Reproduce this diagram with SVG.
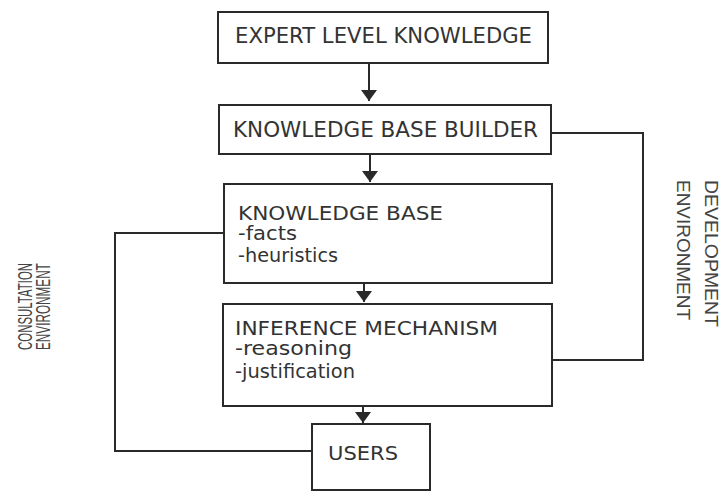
<svg xmlns="http://www.w3.org/2000/svg" width="725" height="493" viewBox="0 0 725 493">
  <defs>
    <marker id="ah" viewBox="0 0 11 16" refX="11" refY="8" markerWidth="11" markerHeight="16" markerUnits="userSpaceOnUse" orient="auto">
      <path d="M0,0 L11,8 L0,16 z" fill="#2a2a2a"/>
    </marker>
    <style>
      .box { fill: #ffffff; stroke: #2a2a2a; stroke-width: 2; }
      .conn { fill: none; stroke: #2a2a2a; stroke-width: 2; }
      .t { font-family: "DejaVu Sans", "Liberation Sans", sans-serif; fill: #333333; }
      .big { font-size: 22px; }
      .mid { font-size: 20px; }
      .side { font-family: "Liberation Sans", Arial, sans-serif; fill: #444444; font-size: 19px; }
      .side2 { font-family: "Liberation Sans", Arial, sans-serif; fill: #444444; font-size: 21px; }
    </style>
  </defs>
  <rect width="725" height="493" fill="#ffffff"/>

  <g id="connectors">
    <line class="conn" x1="369" y1="63" x2="369" y2="101" marker-end="url(#ah)"/>
    <line class="conn" x1="370" y1="154" x2="370" y2="182" marker-end="url(#ah)"/>
    <line class="conn" x1="364" y1="283" x2="364" y2="302" marker-end="url(#ah)"/>
    <line class="conn" x1="363" y1="406" x2="363" y2="423" marker-end="url(#ah)"/>
    <polyline class="conn" points="224,233 115,233 115,451 312,451"/>
    <polyline class="conn" points="551,133 643,133 643,360 552,360"/>
  </g>

  <g id="expert">
    <rect class="box" x="218" y="12" width="330" height="51"/>
    <text class="t big" x="235" y="43" textLength="297" lengthAdjust="spacingAndGlyphs">EXPERT LEVEL KNOWLEDGE</text>
  </g>
  <g id="kbbuilder">
    <rect class="box" x="219" y="105" width="332" height="49"/>
    <text class="t big" x="233" y="137" textLength="305" lengthAdjust="spacingAndGlyphs">KNOWLEDGE BASE BUILDER</text>
  </g>
  <g id="kb">
    <rect class="box" x="224" y="184" width="328" height="99"/>
    <text class="t mid" x="238" y="220" textLength="205" lengthAdjust="spacingAndGlyphs">KNOWLEDGE BASE</text>
    <text class="t mid" x="238" y="240" textLength="59" lengthAdjust="spacingAndGlyphs">-facts</text>
    <text class="t mid" x="238" y="262" textLength="100" lengthAdjust="spacingAndGlyphs">-heuristics</text>
  </g>
  <g id="inference">
    <rect class="box" x="223" y="304" width="329" height="102"/>
    <text class="t mid" x="235" y="335" textLength="263" lengthAdjust="spacingAndGlyphs">INFERENCE MECHANISM</text>
    <text class="t mid" x="235" y="355" textLength="117" lengthAdjust="spacingAndGlyphs">-reasoning</text>
    <text class="t mid" x="235" y="378" textLength="120" lengthAdjust="spacingAndGlyphs">-justification</text>
  </g>
  <g id="users">
    <rect class="box" x="312" y="424" width="118" height="66"/>
    <text class="t mid" x="328" y="460" textLength="70" lengthAdjust="spacingAndGlyphs">USERS</text>
  </g>

  <g id="consultation-label">
    <text class="side2" transform="translate(32,350) rotate(-90) scale(0.545,1)">CONSULTATION</text>
    <text class="side2" transform="translate(50,350) rotate(-90) scale(0.56,1)">ENVIRONMENT</text>
  </g>
  <g id="development-label">
    <text class="side" transform="translate(705,180) rotate(90)" textLength="147" lengthAdjust="spacingAndGlyphs">DEVELOPMENT</text>
    <text class="side" transform="translate(677,180) rotate(90)" textLength="140" lengthAdjust="spacingAndGlyphs">ENVIRONMENT</text>
  </g>
</svg>
